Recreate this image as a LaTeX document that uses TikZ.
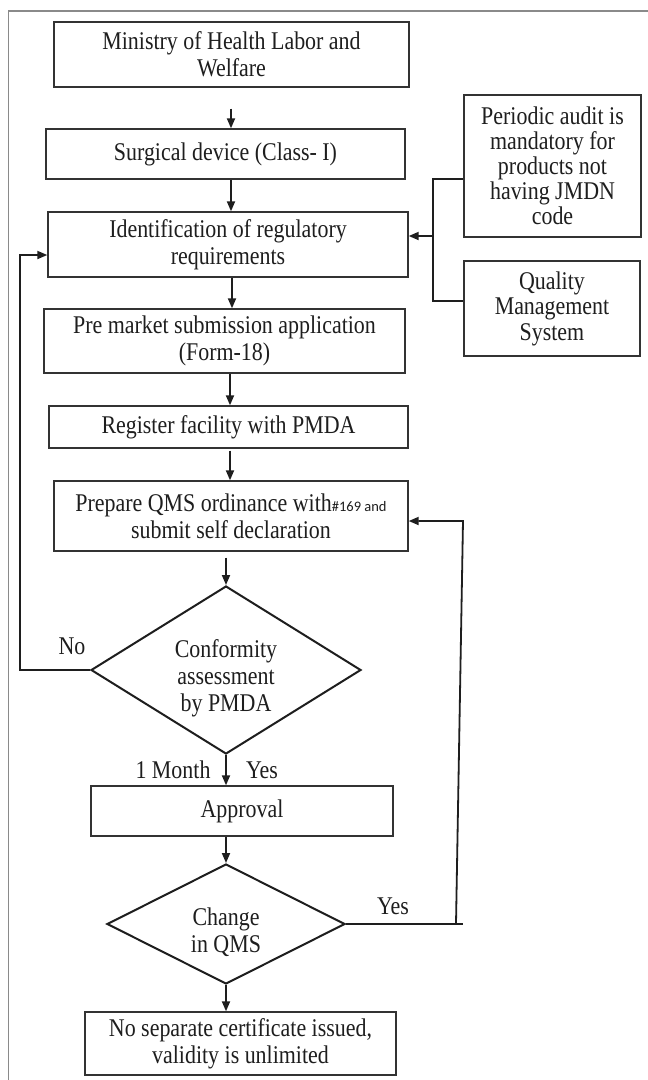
\documentclass[tikz,border=0pt]{standalone}
\usepackage{fontspec}
\setmainfont{Liberation Serif}[FakeStretch=0.86]
\newfontfamily\smallsans{Carlito}
\usetikzlibrary{arrows.meta,shapes.geometric}
\definecolor{ink}{HTML}{1E1E1E}
\definecolor{edge}{HTML}{333333}
\definecolor{framegray}{HTML}{8A8A8A}
\begin{document}
\begin{tikzpicture}[x=1pt,y=-1pt,
  txt/.style={font=\fontsize{25.5}{27}\selectfont, text=ink, align=center},
  stepbox/.style={txt, draw=edge, line width=1.4pt, inner sep=0pt},
  decision/.style={shape=diamond, draw=ink, line width=2pt, inner sep=0pt},
  link/.style={draw=ink, line width=1.8pt},
  arr/.style={link, -{Triangle[length=10pt,width=8pt]}},
  lbl/.style={txt, inner sep=0pt}]
\useasboundingbox (0,0) rectangle (648,1080);
\fill[white] (0,0) rectangle (648,1080);
% outer frame (runs off the page on the right and at the bottom)
\draw[framegray, line width=1.4pt] (8.5,1095) -- (8.5,11) -- (660,11);

% main column
\node[stepbox, minimum width=355, minimum height=65] (b1) at (231.5,54.5)
  {Ministry of Health Labor and\\Welfare};
\node[stepbox, minimum width=359, minimum height=50] (b2) at (225.5,154)
  {Surgical device (Class- I)};
\node[stepbox, minimum width=360, minimum height=65] (b3) at (228,244.5)
  {Identification of regulatory\\requirements};
\node[stepbox, minimum width=361, minimum height=64] (b4) at (224.5,341)
  {Pre market submission application\\(Form-18)};
\node[stepbox, minimum width=359, minimum height=42] (b5) at (228.5,427)
  {Register facility with PMDA};
\node[stepbox, minimum width=354, minimum height=70] (b6) at (231,516)
  {Prepare QMS ordinance with{\smallsans\fontsize{14.5}{16}\selectfont\#169 and}\\submit self declaration};
\node[decision, minimum width=270, minimum height=168] (d1) at (226,670) {};
\node[txt] (d1text) at ([yshift=-8pt]d1.center) {Conformity\\assessment\\by PMDA};
\node[stepbox, minimum width=302, minimum height=50] (b7) at (242,811)
  {Approval};
\node[decision, minimum width=238, minimum height=120] (d2) at (226,924) {};
\node[txt] (d2text) at ([yshift=-8pt]d2.center) {Change\\in QMS};
\node[stepbox, minimum width=311, minimum height=63] (b8) at (240.5,1043.5)
  {No separate certificate issued,\\validity is unlimited};

% side column
\node[stepbox, font=\fontsize{25.5}{25}\selectfont, minimum width=177, minimum height=142] (pa) at (552.5,166)
  {Periodic audit is\\mandatory for\\products not\\having JMDN\\code};
\node[stepbox, font=\fontsize{25.5}{25.5}\selectfont, minimum width=176, minimum height=95] (qm) at (552,308.5)
  {Quality\\Management\\System};

% labels
\node[lbl] (lno) at (72,646) {No};
\node[lbl] (lmonth) at (173,770) {1 Month};
\node[lbl] (lyes1) at (262,770) {Yes};
\node[lbl] (lyes2) at (393,906) {Yes};

% vertical flow
\draw[arr] ([xshift=-0.5pt,yshift=-21pt]b1.south) -- ([xshift=5.5pt]b2.north);
\draw[arr] ([xshift=5.5pt]b2.south) -- ([xshift=3pt]b3.north);
\draw[arr] ([xshift=4pt]b3.south) -- ([xshift=7.5pt]b4.north);
\draw[arr] ([xshift=5.5pt]b4.south) -- ([xshift=1.5pt]b5.north);
\draw[arr] ([xshift=1.5pt,yshift=-2pt]b5.south) -- ([xshift=-1pt]b6.north);
\draw[arr] ([xshift=-5pt,yshift=-6pt]b6.south) -- (d1.north);
\draw[arr] (d1.south) -- ([xshift=-16pt]b7.north);
\draw[arr] ([xshift=-16pt]b7.south) -- (d2.north);
\draw[arr] (d2.south) -- ([xshift=-14.5pt]b8.north);

% bracket joining the side boxes to the requirements box
\coordinate (br1) at (433,179);
\coordinate (br2) at (433,301);
\coordinate (br3) at (433,236);
\draw[link] (pa.west |- br1) -- (br1) -- (br2) -- (qm.west |- br2);
\draw[arr] (br3) -- (br3 -| b3.east);

% "No" loop back to the requirements box
\coordinate (nofb) at (20,255);
\draw[arr] (d1.west) -- (d1.west -| nofb) -- (nofb) -- (nofb -| b3.west);

% "Yes" loop back to the QMS step
\coordinate (yb) at (456,924);
\coordinate (yt) at (463,521);
\draw[link] (d2.east) -- (d2.east -| yt);
\draw[arr] (yb) -- (yt) -- (yt -| b6.east);
\end{tikzpicture}
\end{document}
